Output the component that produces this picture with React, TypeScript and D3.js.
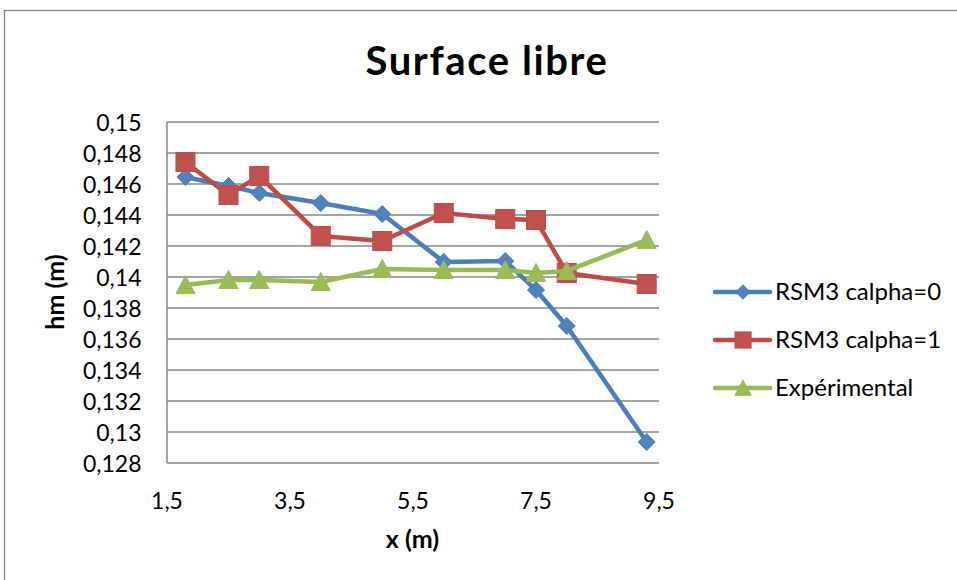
import React from "react";
import * as d3 from "d3";

const xValues = [1.8, 2.5, 3.0, 4.0, 5.0, 6.0, 7.0, 7.5, 8.0, 9.3];
const rsmCalpha0 = [0.14645, 0.14587, 0.14542, 0.14477, 0.14406, 0.14097, 0.14103, 0.13916, 0.13684, 0.12935];
const rsmCalpha1 = [0.14742, 0.14529, 0.14652, 0.14265, 0.14232, 0.14413, 0.14374, 0.14368, 0.14026, 0.13955];
const experimental = [0.13948, 0.13981, 0.13981, 0.13968, 0.14052, 0.14045, 0.14045, 0.14026, 0.14039, 0.14239];
const seriesNames = ["RSM3 calpha=0", "RSM3 calpha=1", "Expérimental"];
const xTicks = [1.5, 3.5, 5.5, 7.5, 9.5];
const yTicks = [0.128, 0.13, 0.132, 0.134, 0.136, 0.138, 0.14, 0.142, 0.144, 0.146, 0.148, 0.15];

const W = 957;
const H = 580;
const plot = { left: 167, right: 659, top: 122, bottom: 463 };
const FONT = "Lato, 'Open Sans', sans-serif";
const GRID = "#868686";

const series = [
  { name: seriesNames[0], values: rsmCalpha0, line: "#4A7EBB", fill: "#4F81BD", shape: "diamond" },
  { name: seriesNames[1], values: rsmCalpha1, line: "#BE4B48", fill: "#C0504D", shape: "square" },
  { name: seriesNames[2], values: experimental, line: "#98B954", fill: "#9BBB59", shape: "triangle" },
];

function Marker({ shape, x, y, fill, stroke, scale = 1 }: any) {
  if (shape === "diamond") {
    const r = 8.5 * scale;
    return <path d={`M${x},${y - r}L${x + r},${y}L${x},${y + r}L${x - r},${y}Z`} fill={fill} stroke={stroke} strokeWidth={1} />;
  }
  if (shape === "square") {
    const r = 9.5 * scale;
    return <rect x={x - r} y={y - r} width={2 * r} height={2 * r} fill={fill} stroke={stroke} strokeWidth={1} />;
  }
  const r = 9.5 * scale;
  return <path d={`M${x},${y - r}L${x + r},${y + r * 0.9}L${x - r},${y + r * 0.9}Z`} fill={fill} stroke={stroke} strokeWidth={1} />;
}

export default function App() {
  const x = d3.scaleLinear().domain([1.5, 9.5]).range([plot.left, plot.right]);
  const y = d3.scaleLinear().domain([0.128, 0.15]).range([plot.bottom, plot.top]);
  const fmt = (v: number) => String(+v.toFixed(3)).replace(".", ",");
  const fmtX = (v: number) => String(v).replace(".", ",");
  const line = d3.line<number>().x((_, i) => x(xValues[i])).y((d) => y(d));
  const legendX = 715;
  const legendYs = [292, 340, 388];

  return (
    <svg width={W} height={H} style={{ position: "absolute", left: 0, top: 0, background: "#fff" }} fontFamily={FONT}>
      <rect x={0} y={0} width={W} height={H} fill="#fff" />
      <rect x={4.5} y={10.5} width={W + 20} height={H + 20} fill="none" stroke={GRID} strokeWidth={1.3} />
      <text x={487} y={75} textAnchor="middle" fontSize={40} fontWeight={700} letterSpacing={1.6} fill="#000">Surface libre</text>

      {yTicks.map((t) => (
        <g key={t}>
          <line x1={plot.left} x2={plot.right} y1={y(t)} y2={y(t)} stroke={GRID} strokeWidth={1.5} />
          <text x={141.5} y={y(t) + 9} textAnchor="end" fontSize={23} fill="#000">{fmt(t)}</text>
        </g>
      ))}
      <line x1={plot.left} x2={plot.left} y1={plot.top} y2={plot.bottom} stroke={GRID} strokeWidth={1.5} />
      {xTicks.map((t) => (
        <text key={t} x={x(t)} y={509} textAnchor="middle" fontSize={23} fill="#000">{fmtX(t)}</text>
      ))}

      <text x={412.5} y={548} textAnchor="middle" fontSize={25} fontWeight={700} fill="#000">x (m)</text>
      <text transform={`translate(64,292) rotate(-90)`} textAnchor="middle" fontSize={25} fontWeight={700} fill="#000">hm (m)</text>

      {series.map((s) => (
        <g key={s.name}>
          <path d={line(s.values) || ""} fill="none" stroke={s.line} strokeWidth={4.5} strokeLinejoin="round" strokeLinecap="round" />
          {s.values.map((v, i) => (
            <Marker key={i} shape={s.shape} x={x(xValues[i])} y={y(v)} fill={s.fill} stroke={s.line} />
          ))}
        </g>
      ))}

      {series.map((s, i) => (
        <g key={s.name}>
          <line x1={legendX} x2={legendX + 55} y1={legendYs[i]} y2={legendYs[i]} stroke={s.line} strokeWidth={4.5} strokeLinecap="round" />
          <Marker shape={s.shape} x={legendX + 28} y={legendYs[i]} fill={s.fill} stroke={s.line} scale={0.85} />
          <text x={legendX + 60} y={legendYs[i] + 8} fontSize={24} fill="#000">{s.name}</text>
        </g>
      ))}
    </svg>
  );
}
